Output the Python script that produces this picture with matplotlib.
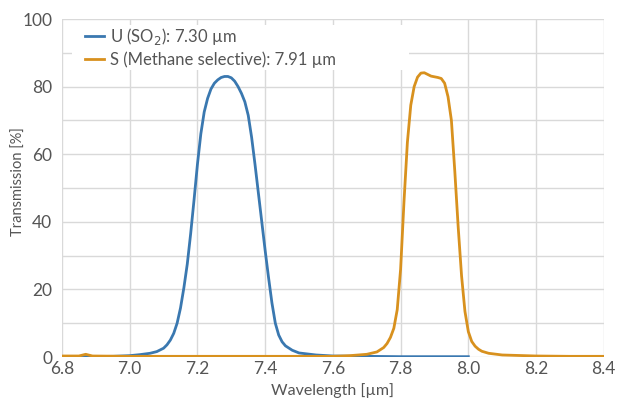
import matplotlib
matplotlib.use("Agg")
from matplotlib import pyplot as plt
from matplotlib.ticker import MultipleLocator
from matplotlib.patches import Rectangle

plt.rcParams['font.family'] = ['Lato', 'DejaVu Sans']

# U (SO2) filter
wl_u = [6.80, 6.90, 6.95, 7.00, 7.03, 7.06, 7.08, 7.10, 7.11, 7.12, 7.13,
        7.14, 7.15, 7.16, 7.17, 7.18, 7.19, 7.20, 7.21, 7.22, 7.23, 7.24,
        7.25, 7.26, 7.27, 7.28, 7.29, 7.30, 7.31, 7.32, 7.33, 7.34, 7.35,
        7.36, 7.37, 7.38, 7.39, 7.40, 7.41, 7.42, 7.43, 7.44, 7.45, 7.46,
        7.48, 7.50, 7.55, 7.60, 7.70, 7.80, 7.90, 8.00]
tr_u = [0.1, 0.15, 0.2, 0.4, 0.7, 1.1, 1.6, 2.6, 3.6, 5.0, 7.0,
        10.0, 14.5, 20.5, 27.5, 36.5, 46.5, 57.0, 66.0, 72.5, 76.5, 79.3,
        81.0, 82.0, 82.7, 83.0, 83.0, 82.6, 81.6, 80.0, 78.0, 75.5, 71.5,
        65.0, 57.0, 48.5, 40.0, 31.5, 23.5, 16.0, 10.0, 6.5, 4.5, 3.3,
        2.0, 1.2, 0.6, 0.3, 0.2, 0.1, 0.1, 0.1]

# S (Methane selective) filter
wl_s = [6.80, 6.85, 6.87, 6.89, 7.00, 7.20, 7.40, 7.60, 7.65, 7.70, 7.73,
        7.75, 7.76, 7.77, 7.78, 7.79, 7.80, 7.81, 7.82, 7.83, 7.84, 7.85,
        7.86, 7.87, 7.88, 7.89, 7.90, 7.91, 7.92, 7.93, 7.94, 7.95, 7.96,
        7.97, 7.98, 7.99, 8.00, 8.01, 8.02, 8.03, 8.04, 8.06, 8.10, 8.20,
        8.30, 8.40]
tr_s = [0.3, 0.3, 0.8, 0.3, 0.2, 0.2, 0.2, 0.2, 0.4, 0.8, 1.5,
        2.8, 4.0, 5.8, 8.5, 14.0, 26.0, 46.0, 63.5, 74.5, 80.0, 82.8,
        84.0, 84.1, 83.6, 83.1, 82.9, 82.7, 82.4, 81.0, 77.0, 70.0, 55.0,
        38.5, 24.0, 13.5, 7.5, 4.6, 3.2, 2.3, 1.7, 1.1, 0.6, 0.3,
        0.2, 0.2]

labels = ['U (SO$_2$): 7.30 µm', 'S (Methane selective): 7.91 µm']

fig = plt.figure(figsize=(6.18, 4.01), dpi=100)
ax = fig.add_axes([0.1003, 0.1097, 0.8767, 0.8429])

ax.plot(wl_u, tr_u, color='#3a78b0', lw=2.0, label=labels[0], zorder=3)
ax.plot(wl_s, tr_s, color='#d8911e', lw=2.0, label=labels[1], zorder=3)

ax.set_xlim(6.8, 8.4)
ax.set_ylim(0, 100)
ax.xaxis.set_major_locator(MultipleLocator(0.2))
ax.yaxis.set_major_locator(MultipleLocator(20))
ax.yaxis.set_minor_locator(MultipleLocator(10))
ax.grid(True, which='both', color='#d9d9d9', lw=1.0, zorder=0)
ax.set_axisbelow(True)
for s in ax.spines.values():
    s.set_visible(False)
ax.tick_params(axis='both', which='both', length=0, colors='#d9d9d9',
               labelcolor='#555555', labelsize=12.5)
ax.tick_params(axis='y', pad=7)
ax.tick_params(axis='x', pad=3)

ax.set_xlabel('Wavelength [µm]', color='#555555', fontsize=11.5, labelpad=4)
ax.set_ylabel('Transmission [%]', color='#555555', fontsize=10.5)
ax.yaxis.set_label_coords(-0.066, 0.52)

# white legend box, wider than its text
ax.add_patch(Rectangle((0.018, 0.849), 0.622, 0.133, transform=ax.transAxes,
                       facecolor='white', edgecolor='none', zorder=2))
leg = ax.legend(loc='upper left', bbox_to_anchor=(0.031, 1.0), frameon=False,
                fontsize=12, handlelength=1.1, handletextpad=0.35,
                borderaxespad=0, labelspacing=0.3)
for t in leg.get_texts():
    t.set_color('#555555')

fig.savefig('out.png', dpi=100)
